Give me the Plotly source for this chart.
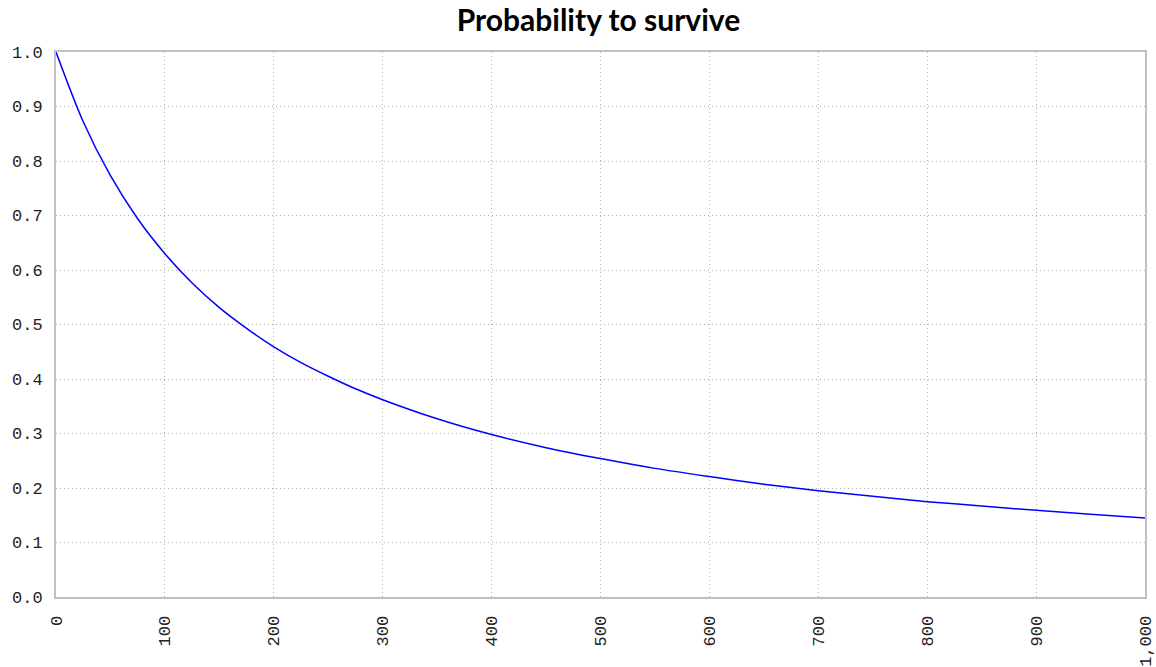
import plotly.graph_objects as go

# Values
time_steps = [0, 25, 50, 75, 100, 125, 150, 175, 200, 225, 250, 275, 300, 350,
              400, 450, 500, 550, 600, 650, 700, 750, 800, 850, 900, 950, 1000]
survival = [1.000, 0.872, 0.773, 0.694, 0.630, 0.576, 0.531, 0.493, 0.459,
            0.430, 0.405, 0.382, 0.362, 0.327, 0.298, 0.274, 0.254, 0.236,
            0.221, 0.207, 0.195, 0.185, 0.175, 0.167, 0.159, 0.152, 0.145]

title_text = "Probability to survive"

fig = go.Figure()
fig.add_trace(go.Scatter(
    x=time_steps, y=survival, mode="lines",
    line=dict(color="#0000ff", width=1.5, shape="spline", smoothing=0.8),
    showlegend=False, hoverinfo="skip",
))

axis_common = dict(
    showline=True, mirror=True, linecolor="#c0c0c0", linewidth=2,
    showgrid=True, gridcolor="#b4b4b4", gridwidth=1, griddash="1px,3px",
    zeroline=False, ticks="", automargin=False,
    tickfont=dict(family="Liberation Mono", size=17, color="#222222"),
)

fig.update_layout(
    width=1156, height=667,
    margin=dict(l=56, r=11, t=52, b=70),
    paper_bgcolor="white", plot_bgcolor="white",
    title=dict(text=title_text, x=0.5177, xanchor="center", y=0.970, yanchor="middle",
               font=dict(family="Lato", size=30, color="#000000", weight="bold")),
)
fig.update_xaxes(range=[0, 1000], dtick=100, tick0=0, tickformat=",d",
                 tickangle=-90, ticklabelstandoff=10, **axis_common)
fig.update_yaxes(range=[0, 1], dtick=0.1, tick0=0, tickformat=".1f",
                 ticklabelstandoff=8, **axis_common)

# remove the page's default 8px body margin so the figure fills the window
fig.write_html("out.html", config={"displayModeBar": False},
               post_script="document.body.style.margin='0';")
